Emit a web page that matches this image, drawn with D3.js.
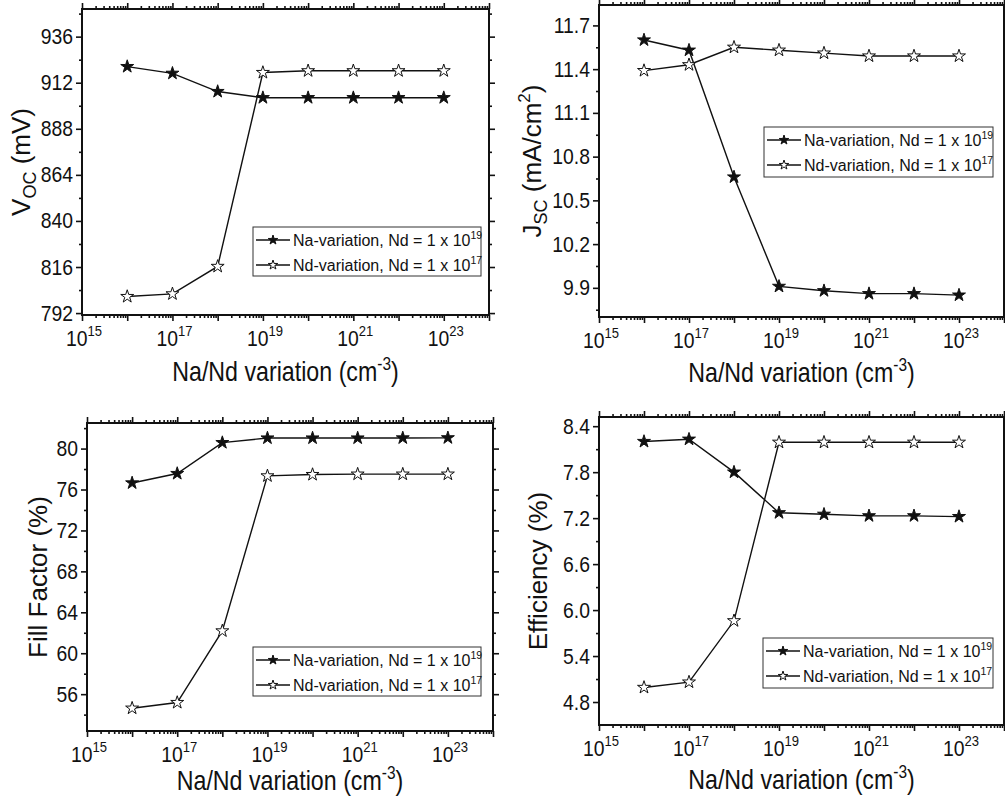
<!DOCTYPE html>
<html>
<head>
<meta charset="utf-8">
<script src="https://cdn.jsdelivr.net/npm/d3@7"></script>
<style>
  body { margin: 0; background: #fff; }
  svg text { font-family: "Liberation Sans", Arial, sans-serif; fill: #111; }
</style>
</head>
<body>
<div id="chart"></div>
<script>
// doping levels on the x axis (cm^-3)
const doping = [1e16, 1e17, 1e18, 1e19, 1e20, 1e21, 1e22, 1e23]
const xLabelExp = [15, 17, 19, 21, 23]

const vocNa = [920.4, 916.9, 907.4, 904.2, 904.2, 904.2, 904.2, 904.2]
const vocNd = [800.6, 802.0, 816.3, 917.3, 918.2, 918.2, 918.2, 918.2]
const jscNa = [11.60, 11.53, 10.66, 9.91, 9.88, 9.86, 9.86, 9.85]
const jscNd = [11.39, 11.43, 11.55, 11.53, 11.51, 11.49, 11.49, 11.49]
const ffNa = [76.64, 77.56, 80.58, 81.03, 81.03, 81.03, 81.04, 81.05]
const ffNd = [54.63, 55.18, 62.18, 77.33, 77.46, 77.50, 77.50, 77.50]
const effNa = [8.20, 8.23, 7.80, 7.27, 7.25, 7.23, 7.23, 7.22]
const effNd = [4.99, 5.06, 5.86, 8.19, 8.19, 8.19, 8.19, 8.19]

const vocTicks = [792, 816, 840, 864, 888, 912, 936]
const jscTicks = [9.9, 10.2, 10.5, 10.8, 11.1, 11.4, 11.7]
const ffTicks = [56, 60, 64, 68, 72, 76, 80]
const effTicks = [4.8, 5.4, 6.0, 6.6, 7.2, 7.8, 8.4]

const legendNames = ['Na-variation, Nd = 1 x 10', 'Nd-variation, Nd = 1 x 10']
const legendExp = ['19', '17']

let svg = d3.select('#chart')
  .append('svg')
  .attr('width', 1005)
  .attr('height', 799)

const panels = [
  {
    box: { left: 82, right: 489, top: 9, bottom: 315 },
    yDomain: [791, 950.4], ticks: vocTicks, fmt: d3.format('d'),
    na: vocNa, nd: vocNd,
    title: ['V', 'OC', ' (mV)'], titleX: 21,
    xTitleY: 381,
    legend: { x: 253, y: 227, w: 228, h: 49 }
  },
  {
    box: { left: 599, right: 1004, top: 5, bottom: 317 },
    yDomain: [9.70, 11.84], ticks: jscTicks, fmt: d3.format('.1f'),
    na: jscNa, nd: jscNd,
    title: ['J', 'SC', ' (mA/cm', '2', ')'], titleX: 532,
    xTitleY: 382,
    legend: { x: 764, y: 127, w: 229, h: 50 }
  },
  {
    box: { left: 87, right: 493, top: 423, bottom: 731 },
    yDomain: [52.4, 82.5], ticks: ffTicks, fmt: d3.format('d'),
    na: ffNa, nd: ffNd,
    title: ['Fill Factor (%)'], titleX: 38,
    xTitleY: 790,
    legend: { x: 253, y: 647, w: 228, h: 49 }
  },
  {
    box: { left: 599, right: 1004, top: 417, bottom: 725 },
    yDomain: [4.5, 8.52], ticks: effTicks, fmt: d3.format('.1f'),
    na: effNa, nd: effNd,
    title: ['Efficiency (%)'], titleX: 538,
    xTitleY: 789,
    legend: { x: 763, y: 638, w: 230, h: 50 }
  }
]

const bigStar = d3.symbol().type(d3.symbolStar).size(52)
const smallStar = d3.symbol().type(d3.symbolStar).size(28)

panels.forEach(drawPanel)

// the source picture is a little squeezed sideways, so texts get a scaleX
function placeText(sel, x, y, sx) {
  return sel.attr('transform', 'translate(' + x + ',' + y + ') scale(' + sx + ',1)')
}

function drawPanel(p) {
  const b = p.box
  const x = d3.scaleLog().domain([1e15, 1e24]).range([b.left, b.right])
  const y = d3.scaleLinear().domain(p.yDomain).range([b.bottom, b.top])
  const g = svg.append('g')

  // minor ticks on the log axis
  let minorX = []
  for (let e = 15; e < 24; e++) {
    for (let m = 2; m < 10; m++) minorX.push(m * Math.pow(10, e))
  }
  const majorX = d3.range(15, 25).map(e => Math.pow(10, e))

  const yStep = p.ticks[1] - p.ticks[0]
  const minorY = p.ticks.map(t => t + yStep / 2).concat([p.ticks[0] - yStep / 2])
    .filter(t => t > p.yDomain[0] && t < p.yDomain[1])

  const axes = [
    [d3.axisBottom(x).tickValues(majorX), d3.axisBottom(x).tickValues(minorX), 'translate(0,' + b.bottom + ')'],
    [d3.axisTop(x).tickValues(majorX), d3.axisTop(x).tickValues(minorX), 'translate(0,' + b.top + ')'],
    [d3.axisLeft(y).tickValues(p.ticks), d3.axisLeft(y).tickValues(minorY), 'translate(' + b.left + ',0)'],
    [d3.axisRight(y).tickValues(p.ticks), d3.axisRight(y).tickValues(minorY), 'translate(' + b.right + ',0)']
  ]
  axes.forEach(([major, minor, tr]) => {
    major.tickSize(6).tickFormat('')
    minor.tickSize(3).tickFormat('')
    ;[major, minor].forEach(ax => {
      const a = g.append('g').attr('transform', tr).call(ax)
      a.select('.domain').remove()
      a.selectAll('line').attr('stroke', '#111').attr('stroke-width', 1.6)
    })
  })

  // frame
  g.append('rect')
    .attr('x', b.left)
    .attr('y', b.top)
    .attr('width', b.right - b.left)
    .attr('height', b.bottom - b.top)
    .attr('fill', 'none')
    .attr('stroke', '#111')
    .attr('stroke-width', 2)

  // y tick labels
  g.selectAll('.ylab')
    .data(p.ticks)
    .enter()
    .append('text')
    .attr('transform', d => 'translate(' + (b.left - 9) + ',' + (y(d) + 7.5) + ') scale(0.9,1)')
    .attr('text-anchor', 'end')
    .attr('font-size', 21.5)
    .text(p.fmt)

  // x tick labels, 10^n
  const xl = g.selectAll('.xlab')
    .data(xLabelExp)
    .enter()
    .append('text')
    .attr('transform', d => 'translate(' + (x(Math.pow(10, d)) + 2) + ',' + (b.bottom + 31) + ') scale(0.9,1)')
    .attr('text-anchor', 'middle')
    .attr('font-size', 21.5)
  xl.append('tspan').text('10')
  xl.append('tspan').attr('font-size', 14.5).attr('dy', -10).text(d => d)

  // x title
  const xt = placeText(g.append('text'), (b.left + b.right) / 2, p.xTitleY, 0.86)
    .attr('text-anchor', 'middle')
    .attr('font-size', 27)
  xt.append('tspan').text('Na/Nd variation (cm')
  xt.append('tspan').attr('font-size', 18).attr('dy', -11).text('-3')
  xt.append('tspan').attr('dy', 11).text(')')

  // y title
  const yt = g.append('text')
    .attr('transform', 'translate(' + p.titleX + ',' + (b.top + b.bottom) / 2 + ') rotate(-90)')
    .attr('text-anchor', 'middle')
    .attr('dy', 9)
    .attr('font-size', 26)
  if (p.title.length === 1) {
    yt.text(p.title[0])
  } else {
    yt.append('tspan').text(p.title[0])
    yt.append('tspan').attr('font-size', 18).attr('dy', 6).text(p.title[1])
    yt.append('tspan').attr('dy', -6).text(p.title[2])
    if (p.title.length > 3) {
      yt.append('tspan').attr('font-size', 17).attr('dy', -11).text(p.title[3])
      yt.append('tspan').attr('dy', 11).text(p.title[4])
    }
  }

  // series
  const line = d3.line().x(d => x(d[0])).y(d => y(d[1]))
  const series = [
    { values: p.na, fill: '#111' },
    { values: p.nd, fill: '#fff' }
  ]
  series.forEach(s => {
    const pts = doping.map((d, i) => [d, s.values[i]])
    g.append('path')
      .datum(pts)
      .attr('d', line)
      .attr('fill', 'none')
      .attr('stroke', '#111')
      .attr('stroke-width', 1.4)
    g.selectAll(null)
      .data(pts)
      .enter()
      .append('path')
      .attr('d', bigStar)
      .attr('transform', d => 'translate(' + x(d[0]) + ',' + y(d[1]) + ')')
      .attr('fill', s.fill)
      .attr('stroke', '#111')
      .attr('stroke-width', 1)
  })

  // legend
  const L = p.legend
  const lg = g.append('g').attr('transform', 'translate(' + L.x + ',' + L.y + ')')
  lg.append('rect')
    .attr('width', L.w)
    .attr('height', L.h)
    .attr('fill', '#fff')
    .attr('stroke', '#333')
    .attr('stroke-width', 1)
  legendNames.forEach((name, i) => {
    const cy = 13 + i * 25
    lg.append('line')
      .attr('x1', 3).attr('x2', 37)
      .attr('y1', cy).attr('y2', cy)
      .attr('stroke', '#111')
      .attr('stroke-width', 1.4)
    lg.append('path')
      .attr('d', smallStar)
      .attr('transform', 'translate(20,' + cy + ')')
      .attr('fill', i === 0 ? '#111' : '#fff')
      .attr('stroke', '#111')
      .attr('stroke-width', 1)
    const t = lg.append('text')
      .attr('x', 40)
      .attr('y', cy + 6)
      .attr('font-size', 16)
    t.append('tspan').text(name)
    t.append('tspan').attr('font-size', 10.5).attr('dy', -7).text(legendExp[i])
  })
}
</script>
</body>
</html>
